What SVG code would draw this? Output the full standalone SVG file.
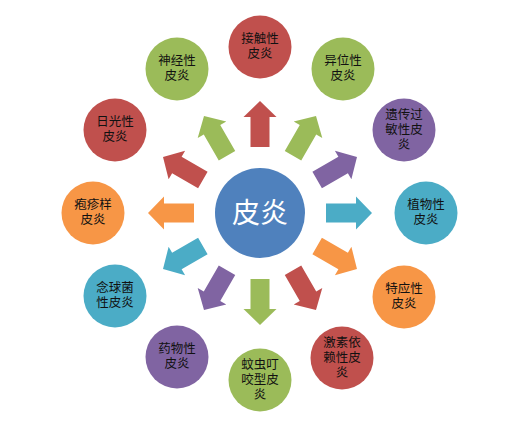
<svg xmlns="http://www.w3.org/2000/svg" width="506" height="444" viewBox="0 0 506 444">
<style>
.t{font-family:"Liberation Sans","Noto Sans CJK SC",sans-serif;font-size:12.5px;fill:#111;text-anchor:middle}
.c{font-family:"Liberation Sans","Noto Sans CJK SC",sans-serif;font-size:28px;fill:#fff;text-anchor:middle}
.red{fill:#C0504D}.grn{fill:#9BBB59}.pur{fill:#8064A2}.tea{fill:#4BACC6}.org{fill:#F79646}
</style>
<defs>
<path id="arr" d="M-9.5,-66 L-9.5,-96 L-16.5,-96 L0,-112 L16.5,-96 L9.5,-96 L9.5,-66 Z"/>
</defs>
<rect width="506" height="444" fill="#fff"/>
<g id="connectors" transform="translate(260,213)">
<use href="#arr" class="red" transform="rotate(0)"/>
<use href="#arr" class="grn" transform="rotate(30)"/>
<use href="#arr" class="pur" transform="rotate(60)"/>
<use href="#arr" class="tea" transform="rotate(90)"/>
<use href="#arr" class="org" transform="rotate(120)"/>
<use href="#arr" class="red" transform="rotate(150)"/>
<use href="#arr" class="grn" transform="rotate(180)"/>
<use href="#arr" class="pur" transform="rotate(210)"/>
<use href="#arr" class="tea" transform="rotate(240)"/>
<use href="#arr" class="org" transform="rotate(270)"/>
<use href="#arr" class="red" transform="rotate(300)"/>
<use href="#arr" class="grn" transform="rotate(330)"/>
</g>
<g id="center"><circle cx="260" cy="213" r="45" fill="#4F81BD"/><text class="c" x="260" y="223">皮炎</text></g>
<g id="n1"><circle cx="260" cy="47" r="31.5" class="red"/><text class="t" x="260" y="43">接触性<tspan x="260" dy="15">皮炎</tspan></text></g>
<g id="n2"><circle cx="343" cy="69" r="31.5" class="grn"/><text class="t" x="343" y="65">异位性<tspan x="343" dy="15">皮炎</tspan></text></g>
<g id="n3"><circle cx="404" cy="130" r="31.5" class="pur"/><text class="t" x="404" y="119">遗传过<tspan x="404" dy="15">敏性皮</tspan><tspan x="404" dy="15">炎</tspan></text></g>
<g id="n4"><circle cx="426" cy="213" r="31.5" class="tea"/><text class="t" x="426" y="209">植物性<tspan x="426" dy="15">皮炎</tspan></text></g>
<g id="n5"><circle cx="404" cy="297" r="31.5" class="org"/><text class="t" x="404" y="293">特应性<tspan x="404" dy="15">皮炎</tspan></text></g>
<g id="n6"><circle cx="342" cy="358" r="31.5" class="red"/><text class="t" x="342" y="347">激素依<tspan x="342" dy="15">赖性皮</tspan><tspan x="342" dy="15">炎</tspan></text></g>
<g id="n7"><circle cx="260" cy="380" r="31.5" class="grn"/><text class="t" x="260" y="369">蚊虫叮<tspan x="260" dy="15">咬型皮</tspan><tspan x="260" dy="15">炎</tspan></text></g>
<g id="n8"><circle cx="177" cy="357" r="31.5" class="pur"/><text class="t" x="177" y="353">药物性<tspan x="177" dy="15">皮炎</tspan></text></g>
<g id="n9"><circle cx="115" cy="296" r="31.5" class="tea"/><text class="t" x="115" y="292">念球菌<tspan x="115" dy="15">性皮炎</tspan></text></g>
<g id="n10"><circle cx="93" cy="213" r="31.5" class="org"/><text class="t" x="93" y="209">疱疹样<tspan x="93" dy="15">皮炎</tspan></text></g>
<g id="n11"><circle cx="115" cy="130" r="31.5" class="red"/><text class="t" x="115" y="126">日光性<tspan x="115" dy="15">皮炎</tspan></text></g>
<g id="n12"><circle cx="177" cy="69" r="31.5" class="grn"/><text class="t" x="177" y="65">神经性<tspan x="177" dy="15">皮炎</tspan></text></g>
</svg>
